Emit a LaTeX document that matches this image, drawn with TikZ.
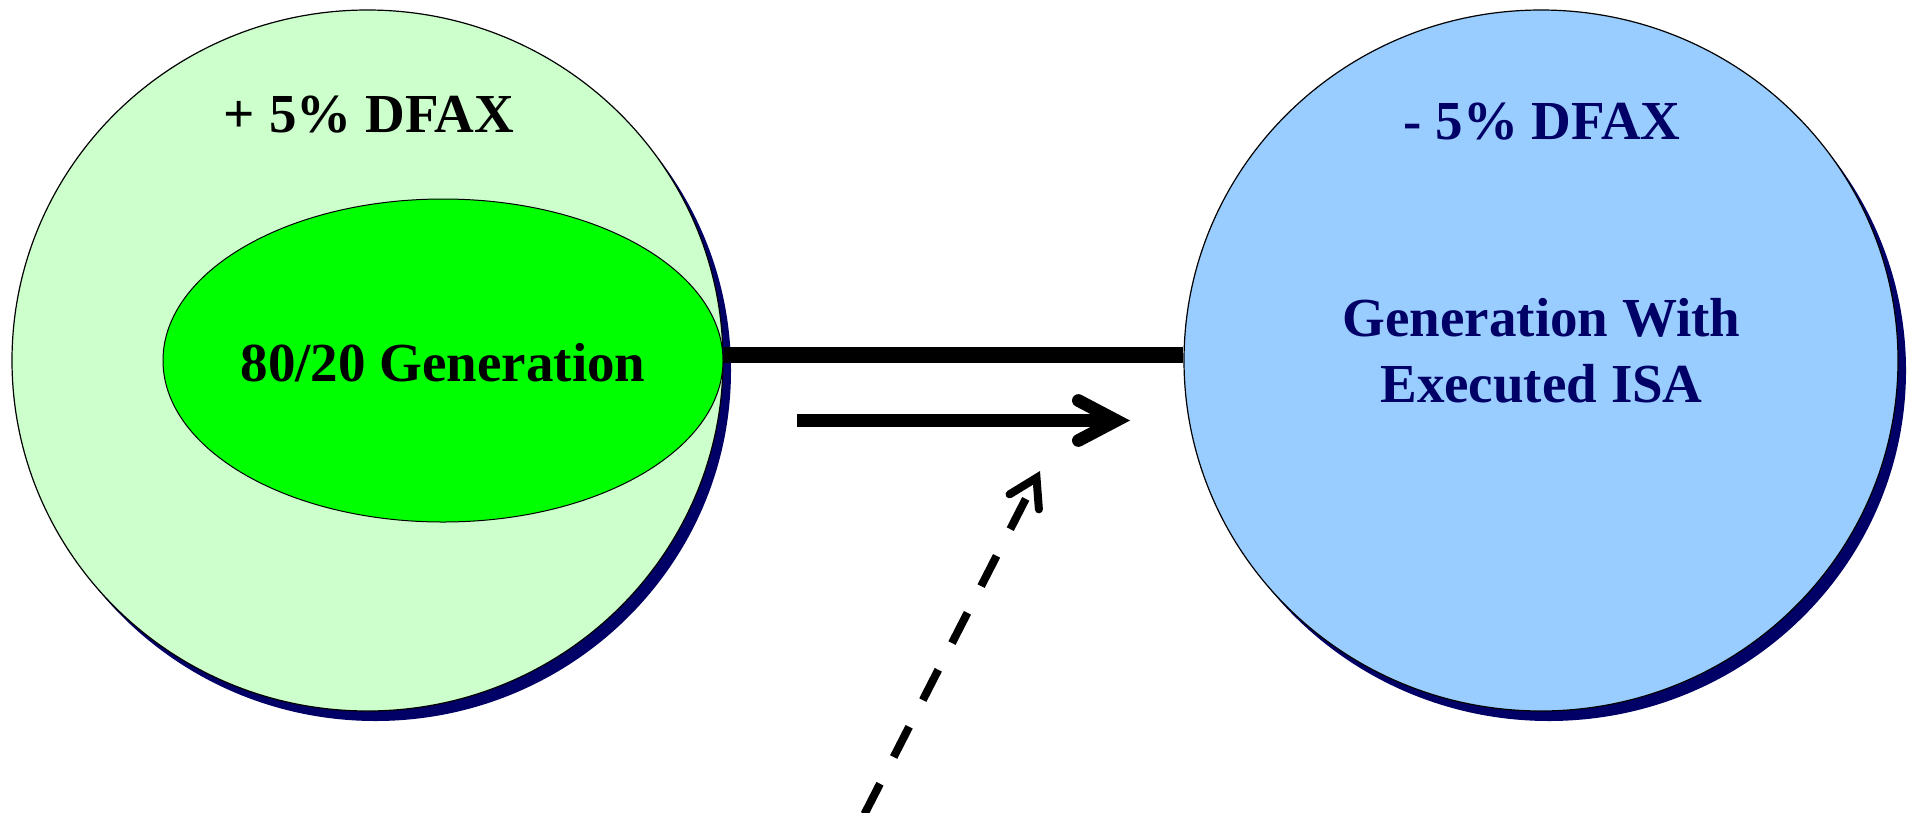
\documentclass[tikz,border=0pt]{standalone}
\usepackage{fontspec}
\setmainfont{Liberation Serif}
\usetikzlibrary{arrows.meta,shapes,shadows,positioning}
\definecolor{navy}{RGB}{0,0,102}
\definecolor{palegreen}{RGB}{204,255,204}
\definecolor{brightgreen}{RGB}{0,255,0}
\definecolor{skyblue}{RGB}{153,204,255}

\begin{document}
\begin{tikzpicture}[x=1pt,y=-1pt,
                big circle/.style={ellipse,draw,line width=1.2pt,minimum height=701pt,
                  drop shadow={shadow xshift=8pt,shadow yshift=-10pt,fill=navy,opacity=1}},
                big text/.style={font=\fontsize{55}{66}\selectfont\bfseries}]
            \useasboundingbox (0,0) rectangle (1916,812);
            \node[big circle,fill=palegreen,minimum width=711pt] (plus) at (367.5,360.5) {};
            \node[big circle,fill=skyblue,minimum width=714pt] (minus) at (1541,360.5) {};
            \node[ellipse,draw,line width=1pt,fill=brightgreen,minimum width=560pt,minimum height=323pt] (core) at (443,360.5) {};
            \node[big text,anchor=base] (plustext) at (369,132) {+ 5\% DFAX};
            \node[big text,anchor=base] (coretext) at (443,381) {80/20 Generation};
            \node[big text,anchor=base,text=navy] (minustext) at (1542,139.5) {- 5\% DFAX};
            \node[big text,align=center,text=navy] (isatext) at (1541.5,350.5) {Generation With\\Executed ISA};
            \coordinate (flowstart) at (797,420.5);
            \coordinate (flowend) at (1130,420.5);
            \coordinate (dashstart) at (864.5,814);
            \coordinate (dashend) at (1040,471);
            \draw[line width=16.6pt] ([yshift=5.5pt]plus.east) -- ([yshift=5.5pt]minus.west);
            \draw[line width=12.7pt,
                  -{Straight Barb[length=38pt,width=40pt,line cap=round,line join=miter]}] (flowstart) -- (flowend);
            \draw[line width=8pt,dash pattern=on 34pt off 30pt,
                  -{Straight Barb[length=27pt,width=33pt,line cap=round,line join=miter]}] (dashstart) -- (dashend);
\end{tikzpicture}
\end{document}
